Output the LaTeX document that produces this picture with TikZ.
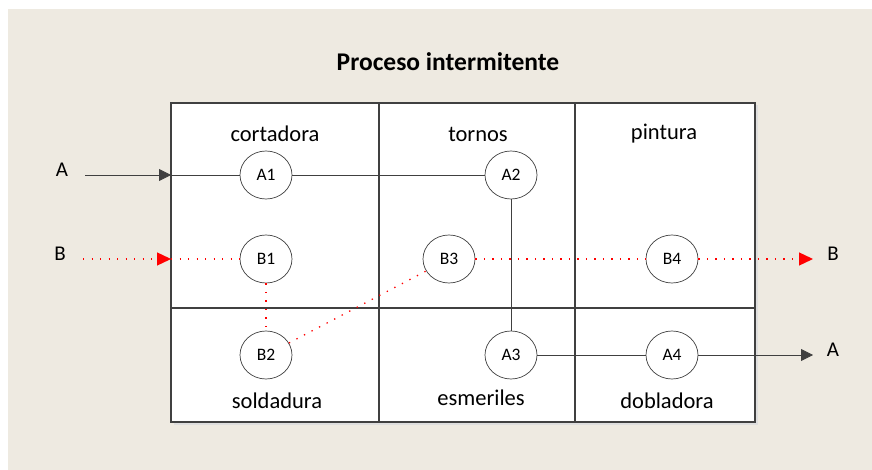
\documentclass[tikz,border=0pt]{standalone}
\usepackage{fontspec}
\setmainfont{Carlito}
\usetikzlibrary{shapes.geometric, arrows.meta, shadows}

\definecolor{bgbeige}{RGB}{238,234,225}
\definecolor{linegray}{RGB}{64,64,64}

\begin{document}
\begin{tikzpicture}[
    x=1pt, y=-1pt,
    area/.style={rectangle, draw=linegray, line width=1.6pt, fill=white, inner sep=0pt,
        drop shadow={shadow xshift=2.5pt, shadow yshift=-2.5pt, fill=black!13, opacity=1}},
    station/.style={ellipse, draw=linegray, line width=0.7pt, fill=white, minimum width=52pt, minimum height=48pt, inner sep=0pt, font=\fontsize{17.5}{20}\selectfont},
    areaname/.style={font=\fontsize{22.5}{26}\selectfont},
    endname/.style={font=\fontsize{21}{24}\selectfont},
    flowA/.style={draw=linegray, line width=0.8pt},
    flowB/.style={draw=red, line width=1.3pt, dash pattern=on 1.3pt off 7.2pt},
    arrowA/.style={flowA, -{Triangle[length=12pt, width=12pt]}},
    arrowB/.style={flowB, -{Triangle[length=14pt, width=13pt, fill=red]}}
]

% Background
\useasboundingbox (0,0) rectangle (872,470);
\fill[bgbeige] (8,9) rectangle (872,470);

% Title
\node[font=\fontsize{25.5}{30}\selectfont\bfseries] (title) at (448,62) {Proceso intermitente};

% Areas, top row
\node[area, minimum width=208pt, minimum height=205pt] (cortadora) at (275,205.5) {};
\node[area, minimum width=196pt, minimum height=205pt] (tornos) at (477,205.5) {};
\node[area, minimum width=180pt, minimum height=205pt] (pintura) at (665,205.5) {};

% Areas, bottom row
\node[area, minimum width=208pt, minimum height=114pt] (soldadura) at (275,365) {};
\node[area, minimum width=196pt, minimum height=114pt] (esmeriles) at (477,365) {};
\node[area, minimum width=180pt, minimum height=114pt] (dobladora) at (665,365) {};

% Area names
\node[areaname] (ncortadora) at (275,134) {cortadora};
\node[areaname] (ntornos) at (478,134) {tornos};
\node[areaname] (npintura) at (664,134) {pintura};
\node[areaname] (nsoldadura) at (277,401) {soldadura};
\node[areaname] (nesmeriles) at (481,398) {esmeriles};
\node[areaname] (ndobladora) at (667,401) {dobladora};

% Stations
\node[station] (A1) at (266,175) {A1};
\node[station] (A2) at (511,175) {A2};
\node[station] (A3) at (511,355) {A3};
\node[station] (A4) at (672,355) {A4};
\node[station] (B1) at (266,259) {B1};
\node[station] (B2) at (266,355) {B2};
\node[station] (B3) at (449,259) {B3};
\node[station] (B4) at (672,259) {B4};

% Entries and exits
\node[endname] (inA) at (62,170) {A};
\node[endname] (inB) at (60,254) {B};
\node[endname] (outA) at (833,350) {A};
\node[endname] (outB) at (833,254) {B};
\coordinate (startA) at (85,175);
\coordinate (startB) at (83,259);
\coordinate (gateA) at (171,175);
\coordinate (gateB) at (171,259);
\coordinate (endA) at (813,355);
\coordinate (endB) at (813,259);

% Route A
\draw[arrowA] (startA) -- (gateA);
\draw[flowA] (gateA) -- (A1);
\draw[flowA] (A1) -- (A2);
\draw[flowA] (A2) -- (A3);
\draw[flowA] (A3) -- (A4);
\draw[arrowA] (A4) -- (endA);

% Route B
\draw[arrowB] (startB) -- (gateB);
\draw[flowB] (gateB) -- (B1);
\draw[flowB] (B1) -- (B2);
\draw[flowB] (B2) -- (B3);
\draw[flowB] (B3) -- (B4);
\draw[arrowB] (B4) -- (endB);

\end{tikzpicture}
\end{document}
